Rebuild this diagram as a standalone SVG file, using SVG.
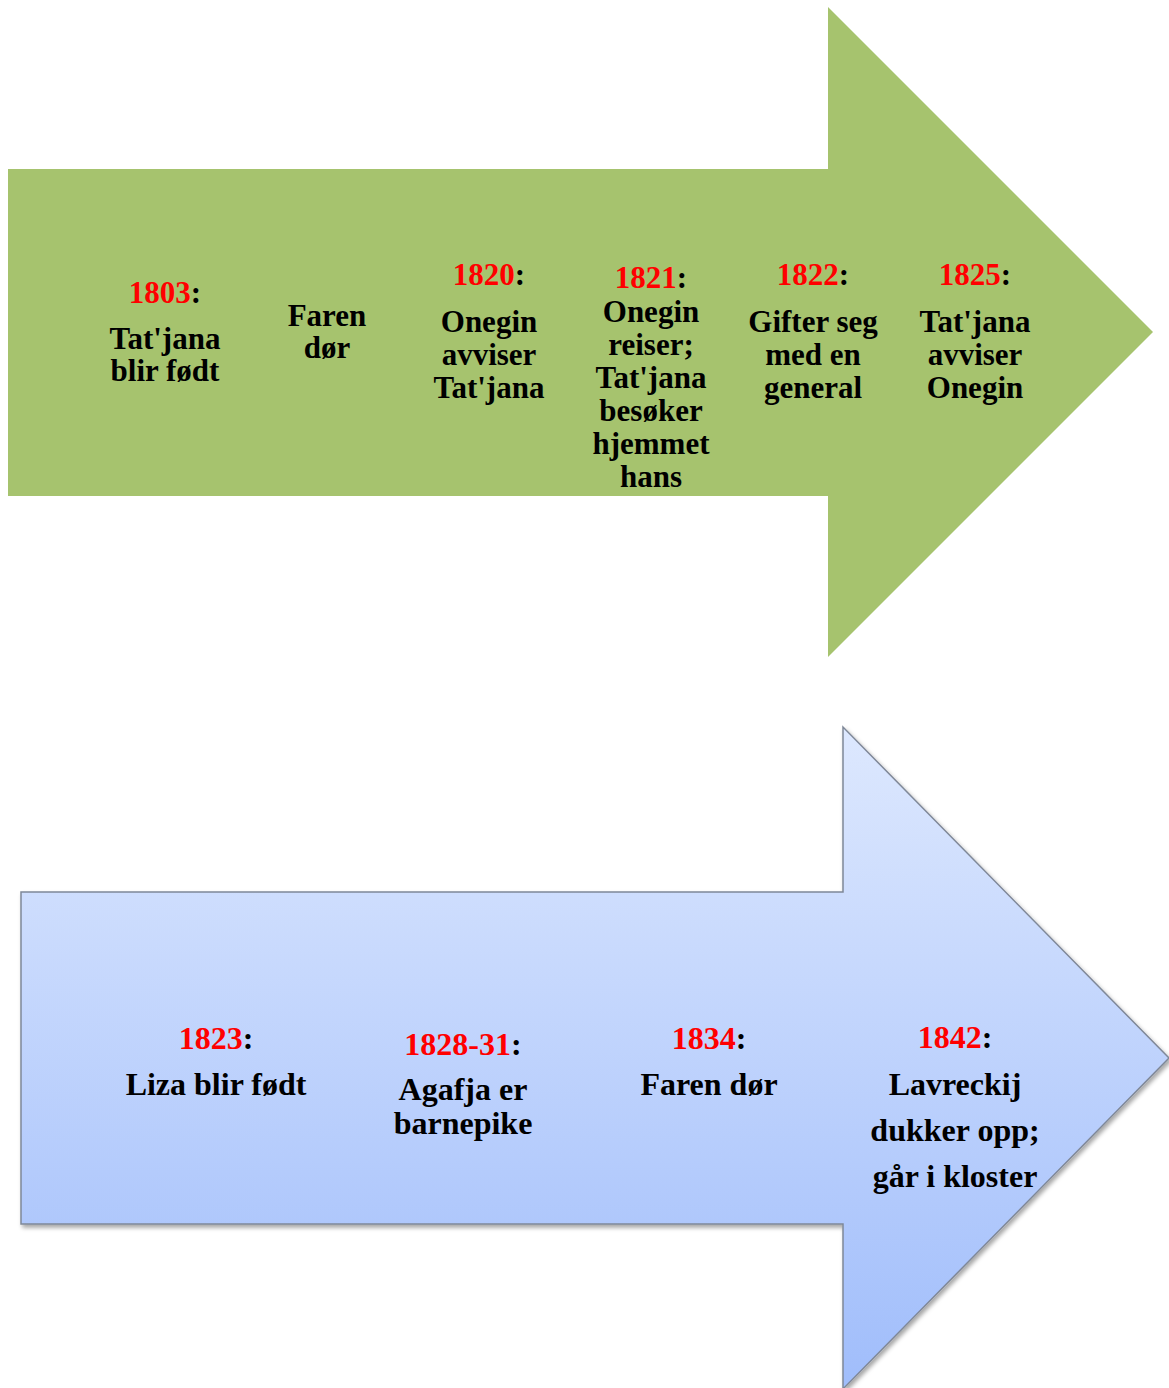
<svg xmlns="http://www.w3.org/2000/svg" width="1169" height="1388" viewBox="0 0 1169 1388">
<defs>
<linearGradient id="blueGrad" gradientUnits="userSpaceOnUse" x1="0" y1="727" x2="0" y2="1389">
<stop offset="0" stop-color="#dde8fe"/>
<stop offset="1" stop-color="#a0bdfb"/>
</linearGradient>
<filter id="shadow" x="-5%" y="-5%" width="110%" height="110%">
<feDropShadow dx="2" dy="3" stdDeviation="2" flood-color="#000" flood-opacity="0.35"/>
</filter>
<style>
text{font-family:"Liberation Serif","Times New Roman",serif;font-weight:bold;text-anchor:middle;fill:#000}
.g{font-size:31px}
.b{font-size:32px}
.y{fill:#ff0000}
</style>
</defs>
<rect width="1169" height="1388" fill="#ffffff"/>
<g id="green-arrow">
<polygon points="8,169 828,169 828,7 1153,332 828,657 828,496 8,496" fill="#a6c36e"/>
</g>
<g id="blue-arrow">
<polygon points="21,892 843,892 843,727 1169,1058 843,1389 843,1224 21,1224" fill="url(#blueGrad)" stroke="#7f8898" stroke-width="1.5" filter="url(#shadow)"/>
</g>
<g id="connectors"></g>
<g id="n1803">
<text x="165" y="303" class="g"><tspan class="y">1803</tspan>:</text>
<text x="165" y="349" class="g">Tat'jana</text>
<text x="165" y="381" class="g">blir født</text>
</g>
<g id="nfaren1">
<text x="327" y="326" class="g">Faren</text>
<text x="327" y="358" class="g">dør</text>
</g>
<g id="n1820">
<text x="489" y="285" class="g"><tspan class="y">1820</tspan>:</text>
<text x="489" y="332" class="g">Onegin</text>
<text x="489" y="365" class="g">avviser</text>
<text x="489" y="398" class="g">Tat'jana</text>
</g>
<g id="n1821">
<text x="651" y="288" class="g"><tspan class="y">1821</tspan>:</text>
<text x="651" y="322" class="g">Onegin</text>
<text x="651" y="355" class="g">reiser;</text>
<text x="651" y="388" class="g">Tat'jana</text>
<text x="651" y="421" class="g">besøker</text>
<text x="651" y="454" class="g">hjemmet</text>
<text x="651" y="487" class="g">hans</text>
</g>
<g id="n1822">
<text x="813" y="285" class="g"><tspan class="y">1822</tspan>:</text>
<text x="813" y="332" class="g">Gifter seg</text>
<text x="813" y="365" class="g">med en</text>
<text x="813" y="398" class="g">general</text>
</g>
<g id="n1825">
<text x="975" y="285" class="g"><tspan class="y">1825</tspan>:</text>
<text x="975" y="332" class="g">Tat'jana</text>
<text x="975" y="365" class="g">avviser</text>
<text x="975" y="398" class="g">Onegin</text>
</g>
<g id="n1823">
<text x="216" y="1049" class="b"><tspan class="y">1823</tspan>:</text>
<text x="216" y="1095" class="b">Liza blir født</text>
</g>
<g id="n1828">
<text x="463" y="1055" class="b"><tspan class="y">1828-31</tspan>:</text>
<text x="463" y="1100" class="b">Agafja er</text>
<text x="463" y="1134" class="b">barnepike</text>
</g>
<g id="n1834">
<text x="709" y="1049" class="b"><tspan class="y">1834</tspan>:</text>
<text x="709" y="1095" class="b">Faren dør</text>
</g>
<g id="n1842">
<text x="955" y="1048" class="b"><tspan class="y">1842</tspan>:</text>
<text x="955" y="1095" class="b">Lavreckij</text>
<text x="955" y="1141" class="b">dukker opp;</text>
<text x="955" y="1187" class="b">går i kloster</text>
</g>
</svg>
